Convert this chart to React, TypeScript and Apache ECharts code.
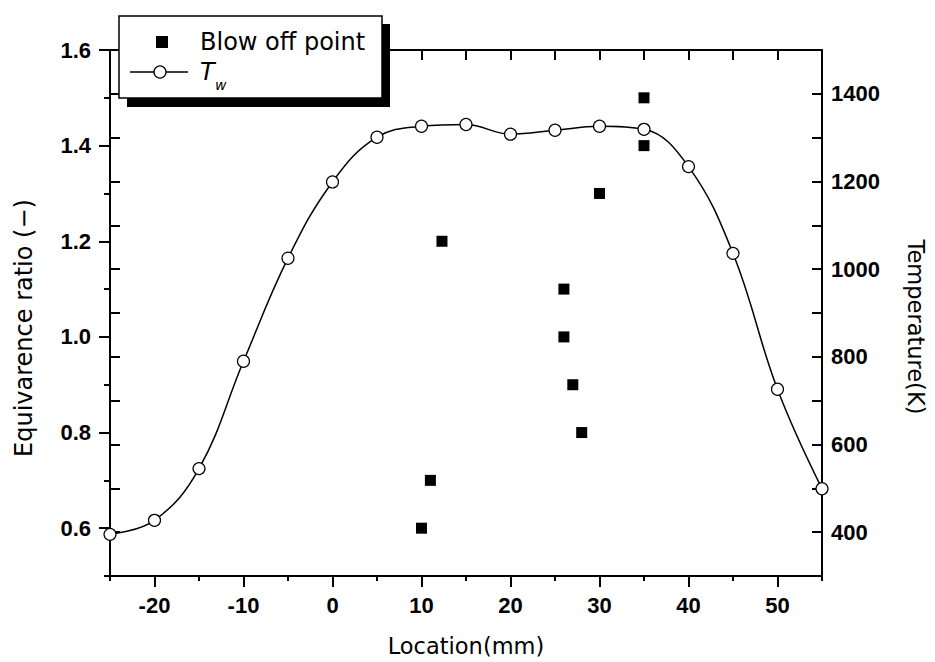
import React, { useEffect, useRef } from "react";
import * as echarts from "echarts";

// ---- data ----
const twLocation = [-25, -20, -15, -10, -5, 0, 5, 10, 15, 20, 25, 30, 35, 40, 45, 50, 55];
const twTemperature = [395, 427, 545, 790, 1025, 1199, 1301, 1326, 1330, 1308, 1317, 1326, 1319, 1234, 1036, 726, 499];
const blowOffLocation = [10, 11, 12.3, 26, 26, 27, 28, 30, 35, 35];
const blowOffRatio = [0.6, 0.7, 1.2, 1.1, 1.0, 0.9, 0.8, 1.3, 1.4, 1.5];
const xMajorTicks = [-20, -10, 0, 10, 20, 30, 40, 50];
const ratioMajorTicks = [0.6, 0.8, 1.0, 1.2, 1.4, 1.6];
const tempLabels = [400, 600, 800, 1000, 1200, 1400];

const BLACK = "#000";
const TICK_FONT = "Liberation Sans";
const NAME_FONT = "DejaVu Sans";

export default function App() {
  const ref = useRef<HTMLDivElement>(null);
  useEffect(() => {
    if (!ref.current) return;
    const chart = echarts.init(ref.current, undefined, { renderer: "svg" });
    const line = { color: BLACK, width: 2 };
    const tickLabel = { color: BLACK, fontFamily: TICK_FONT, fontSize: 22, fontWeight: "bold" as const };
    const nameStyle = { color: BLACK, fontFamily: NAME_FONT, fontSize: 22.5 };
    const option: any = {
      animation: false,
      backgroundColor: "#fff",
      grid: { left: 110, right: 104, top: 50, bottom: 82, containLabel: false },
      xAxis: [
        {
          type: "value", position: "bottom", min: -25, max: 55, interval: 5,
          axisLine: { onZero: false, lineStyle: line },
          axisTick: { inside: false, length: 5, lineStyle: line },
          axisLabel: {
            ...tickLabel, margin: 18,
            formatter: (v: number) => (xMajorTicks.includes(v) ? String(v) : ""),
          },
          splitLine: { show: false },
          name: "Location(mm)", nameLocation: "middle", nameGap: 58, nameTextStyle: nameStyle,
        },
        {
          type: "value", position: "bottom", min: -25, max: 55,
          axisLine: { show: false, onZero: false },
          axisTick: { inside: false, length: 11, lineStyle: line, customValues: xMajorTicks },
          axisLabel: { show: false },
          splitLine: { show: false },
        },
        {
          type: "value", position: "top", min: -25, max: 55, interval: 5,
          axisLine: { onZero: false, lineStyle: line },
          axisTick: { inside: true, length: 10, lineStyle: line },
          axisLabel: { show: false },
          splitLine: { show: false },
        },
      ],
      yAxis: [
        {
          type: "value", position: "left", min: 0.5, max: 1.6, interval: 0.1,
          axisLine: { onZero: false, lineStyle: line },
          axisTick: { inside: false, length: 6, lineStyle: line },
          axisLabel: {
            ...tickLabel, margin: 19, showMaxLabel: true,
            formatter: (v: number) =>
              ratioMajorTicks.some((t) => Math.abs(t - v) < 1e-6) ? v.toFixed(1) : "",
          },
          splitLine: { show: false },
          name: "Equivarence ratio (−)", nameLocation: "middle", nameGap: 74,
          nameTextStyle: { ...nameStyle, fontSize: 24, padding: [0, 30, 0, 0] },
        },
        {
          type: "value", position: "left", min: 0.5, max: 1.6,
          axisLine: { show: false, onZero: false },
          axisTick: { inside: false, length: 11, lineStyle: line, customValues: ratioMajorTicks },
          axisLabel: { show: false },
          splitLine: { show: false },
        },
        {
          type: "value", position: "left", min: 300, max: 1500, interval: 100,
          axisLine: { show: false, onZero: false },
          axisTick: { inside: true, length: 10, lineStyle: line },
          axisLabel: { show: false },
          splitLine: { show: false },
        },
        {
          type: "value", position: "right", min: 300, max: 1500, interval: 100,
          axisLine: { onZero: false, lineStyle: line },
          axisTick: { inside: true, length: 10, lineStyle: line },
          axisLabel: {
            ...tickLabel, margin: 9, showMaxLabel: true,
            formatter: (v: number) => (tempLabels.includes(v) ? String(v) : ""),
          },
          splitLine: { show: false },
          name: "Temperature(K)", nameLocation: "middle", nameGap: 82, nameRotate: -90,
          nameTextStyle: { ...nameStyle, padding: [0, 0, 0, 28] },
        },
      ],
      series: [
        {
          name: "Tw", type: "line", xAxisIndex: 0, yAxisIndex: 3, smooth: 0.4,
          data: twLocation.map((x, i) => [x, twTemperature[i]]),
          symbol: "circle", symbolSize: 12, showAllSymbol: true,
          lineStyle: { color: BLACK, width: 1.5 },
          itemStyle: { color: "#fff", borderColor: BLACK, borderWidth: 1.2 },
          clip: false, z: 3,
        },
        {
          name: "Blow off point", type: "scatter", xAxisIndex: 0, yAxisIndex: 0,
          data: blowOffLocation.map((x, i) => [x, blowOffRatio[i]]),
          symbol: "rect", symbolSize: 11,
          itemStyle: { color: BLACK, opacity: 1 },
          z: 4,
        },
      ],
      graphic: [
        {
          type: "group", z: 100,
          children: [
            { type: "rect", shape: { x: 127, y: 24, width: 263, height: 83 }, style: { fill: BLACK }, z: 100 },
            { type: "rect", shape: { x: 119, y: 16, width: 263, height: 82 }, style: { fill: "#fff", stroke: BLACK, lineWidth: 1.5 }, z: 101 },
            { type: "rect", shape: { x: 156, y: 36, width: 12, height: 12 }, style: { fill: BLACK }, z: 102 },
            { type: "text", x: 200, y: 42, style: { text: "Blow off point", fontFamily: NAME_FONT, fontSize: 24, fill: BLACK, verticalAlign: "middle" }, z: 102 },
            { type: "line", shape: { x1: 130, y1: 72, x2: 188, y2: 72 }, style: { stroke: BLACK, lineWidth: 1.5 }, z: 102 },
            { type: "circle", shape: { cx: 160, cy: 72, r: 6 }, style: { fill: "#fff", stroke: BLACK, lineWidth: 1.3 }, z: 103 },
            { type: "text", x: 200, y: 72, style: { text: "T", fontFamily: NAME_FONT, fontStyle: "italic", fontSize: 24, fill: BLACK, verticalAlign: "middle" }, z: 102 },
            { type: "text", x: 215, y: 85, style: { text: "w", fontFamily: NAME_FONT, fontStyle: "italic", fontSize: 14, fill: BLACK, verticalAlign: "middle" }, z: 102 },
          ],
        },
      ],
    };
    chart.setOption(option);
    return () => chart.dispose();
  }, []);
  return (
    <div
      ref={ref}
      style={{ position: "fixed", left: 0, top: 0, width: 935, height: 662, background: "#fff" }}
    />
  );
}
